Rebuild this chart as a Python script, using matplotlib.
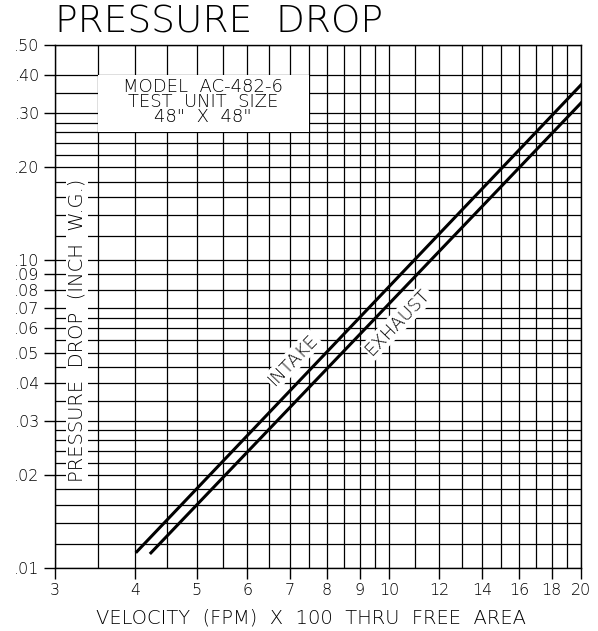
import matplotlib
matplotlib.use("Agg")
import matplotlib.pyplot as plt
from matplotlib.patches import Rectangle

plt.rcParams["font.family"] = ["DejaVu Sans"]
plt.rcParams["font.weight"] = "light"

# velocity (FPM x 100) vs pressure drop (inch w.g.)
intake_vel = [4.03, 20.0]
intake_dp = [0.0113, 0.371]
exhaust_vel = [4.24, 20.0]
exhaust_dp = [0.0112, 0.324]

# grid lines of the printed log paper
x_grid = [3, 3.5, 4, 4.5, 5, 5.5, 6, 6.5, 7, 7.5, 8, 8.5, 9, 9.5,
          10, 11, 12, 13, 14, 15, 16, 17, 18, 19, 20]
x_ticks = [3, 4, 5, 6, 7, 8, 9, 10, 12, 14, 16, 18, 20]
x_labels = ["3", "4", "5", "6", "7", "8", "9", "10", "12", "14", "16", "18", "20"]

y_grid = [0.010, 0.012, 0.014, 0.016, 0.018, 0.020, 0.022, 0.024, 0.026, 0.028,
          0.030, 0.035, 0.040, 0.045, 0.050, 0.055, 0.060, 0.065, 0.070, 0.080,
          0.090, 0.10, 0.12, 0.14, 0.16, 0.18, 0.20, 0.22, 0.24, 0.26, 0.28,
          0.30, 0.35, 0.40, 0.50]
y_ticks = [0.01, 0.02, 0.03, 0.04, 0.05, 0.06, 0.07, 0.08, 0.09, 0.10,
           0.20, 0.30, 0.40, 0.50]
y_labels = [".01", ".02", ".03", ".04", ".05", ".06", ".07", ".08", ".09", ".10",
            ".20", ".30", ".40", ".50"]

W, H = 598, 631
fig = plt.figure(figsize=(W / 100, H / 100), dpi=100)
ax = fig.add_axes([55 / W, (H - 568) / H, 526 / W, 523 / H])

ax.set_xscale("log")
ax.set_yscale("log")
ax.set_xlim(3, 20)
ax.set_ylim(0.01, 0.5)

ax.set_xticks(x_ticks, x_labels)
ax.set_xticks(x_grid, minor=True)
ax.set_yticks(y_ticks, y_labels)
ax.set_yticks(y_grid, minor=True)
ax.xaxis.set_minor_formatter(plt.NullFormatter())
ax.yaxis.set_minor_formatter(plt.NullFormatter())
ax.tick_params(which="major", length=8, width=1.0, labelsize=11.5, pad=3)
ax.tick_params(which="minor", length=0)
ax.grid(which="both", color="black", lw=0.9)
ax.set_axisbelow(True)
for s in ax.spines.values():
    s.set_linewidth(1.0)

ax.plot(intake_vel, intake_dp, color="black", lw=2.2, zorder=3)
ax.plot(exhaust_vel, exhaust_dp, color="black", lw=2.2, zorder=3)

# white panel with test info, bounded by grid lines
ax.add_patch(Rectangle((3.5, 0.26), 4.0, 0.14, facecolor="white",
                       edgecolor="none", zorder=2))
ax.text(5.12, 0.326, 'MODEL  AC-482-6\nTEST  UNIT  SIZE\n48"  X  48"',
        ha="center", va="center", fontsize=13, linespacing=0.8, zorder=4)

ax.text(0.042, 0.455, "PRESSURE  DROP  (INCH  W.G.)", transform=ax.transAxes,
        rotation=90, ha="center", va="center", fontsize=14, zorder=4,
        bbox=dict(facecolor="white", edgecolor="none", pad=1))

ax.text(7.08, 0.0474, "INTAKE", rotation=46, rotation_mode="anchor",
        ha="center", va="center", fontsize=13, zorder=4,
        bbox=dict(facecolor="white", edgecolor="none", pad=1))
ax.text(10.34, 0.063, "EXHAUST", rotation=46, rotation_mode="anchor",
        ha="center", va="center", fontsize=13, zorder=4,
        bbox=dict(facecolor="white", edgecolor="none", pad=1))

fig.text(55 / W, 1 - 22 / H, "PRESSURE  DROP", ha="left", va="center",
         fontsize=27)
fig.text(311 / W, 1 - 618 / H, "VELOCITY  (FPM)  X  100  THRU  FREE  AREA",
         ha="center", va="center", fontsize=14)

fig.savefig("out.png", dpi=100)
